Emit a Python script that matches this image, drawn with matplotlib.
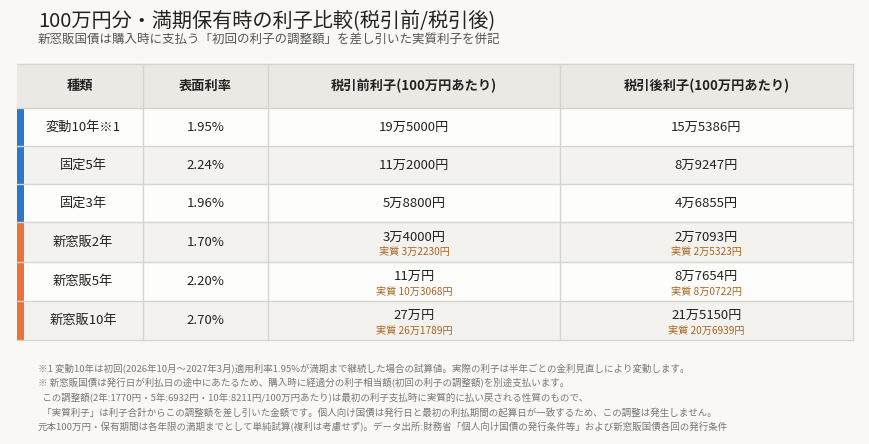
import matplotlib
matplotlib.use("Agg")
import matplotlib.pyplot as plt
from matplotlib.patches import Rectangle

plt.rcParams['font.family'] = ['Noto Sans CJK JP', 'DejaVu Sans']

types = ["変動10年※1", "固定5年", "固定3年", "新窓販2年", "新窓販5年", "新窓販10年"]
rates = ["1.95%", "2.24%", "1.96%", "1.70%", "2.20%", "2.70%"]
pre_tax = ["19万5000円", "11万2000円", "5万8800円", "3万4000円", "11万円", "27万円"]
pre_real = ["", "", "", "実質 3万2230円", "実質 10万3068円", "実質 26万1789円"]
post_tax = ["15万5386円", "8万9247円", "4万6855円", "2万7093円", "8万7654円", "21万5150円"]
post_real = ["", "", "", "実質 2万5323円", "実質 8万0722円", "実質 20万6939円"]
group_colors = ["#2b78c9"] * 3 + ["#e9743a"] * 3
headers = ["種類", "表面利率", "税引前利子(100万円あたり)", "税引後利子(100万円あたり)"]
notes = [
    "※1 変動10年は初回(2026年10月～2027年3月)適用利率1.95%が満期まで継続した場合の試算値。実際の利子は半年ごとの金利見直しにより変動します。",
    "※ 新窓販国債は発行日が利払日の途中にあたるため、購入時に経過分の利子相当額(初回の利子の調整額)を別途支払います。",
    "  この調整額(2年:1770円・5年:6932円・10年:8211円/100万円あたり)は最初の利子支払時に実質的に払い戻される性質のもので、",
    "  「実質利子」は利子合計からこの調整額を差し引いた金額です。個人向け国債は発行日と最初の利払期間の起算日が一致するため、この調整は発生しません。",
    "元本100万円・保有期間は各年限の満期までとして単純試算(複利は考慮せず)。データ出所:財務省「個人向け国債の発行条件等」および新窓販国債各回の発行条件",
]

W, H = 870, 444
fig = plt.figure(figsize=(W/100, H/100), dpi=100, facecolor="#f9f8f5")
ax = fig.add_axes([0, 0, 1, 1])
ax.set_xlim(0, W); ax.set_ylim(H, 0); ax.axis("off")

fig.text(38/W, 1-22/H, "100万円分・満期保有時の利子比較(税引前/税引後)", fontsize=14.5, color="#222", va="center")
fig.text(38/W, 1-39/H, "新窓販国債は購入時に支払う「初回の利子の調整額」を差し引いた実質利子を併記", fontsize=9, color="#555", va="center")

cols = [17, 143, 268, 560, 853]
hy0, hy1 = 64, 108
rows_y = [108, 146, 184, 222, 262, 301, 340]
ax.add_patch(Rectangle((cols[0], hy0), cols[-1]-cols[0], hy1-hy0, fc="#ebe9e4", ec="none"))
for i, h in enumerate(headers):
    ax.text((cols[i]+cols[i+1])/2, (hy0+hy1)/2, h, ha="center", va="center", fontsize=9.5, fontweight="bold", color="#222")
for r in range(len(types)):
    y0, y1 = rows_y[r], rows_y[r+1]
    fc = "#fdfdfb" if r % 2 == 0 else "#f3f2ee"
    ax.add_patch(Rectangle((cols[0], y0), cols[-1]-cols[0], y1-y0, fc=fc, ec="none"))
    ax.add_patch(Rectangle((cols[0], y0), 7, y1-y0, fc=group_colors[r], ec="none"))
    cy = (y0+y1)/2
    ax.text((cols[0]+cols[1])/2+3, cy, types[r], ha="center", va="center", fontsize=9.5, color="#222")
    ax.text((cols[1]+cols[2])/2, cy, rates[r], ha="center", va="center", fontsize=9.5, color="#222")
    for c, main, sub in [(2, pre_tax[r], pre_real[r]), (3, post_tax[r], post_real[r])]:
        xc = (cols[c]+cols[c+1])/2
        if sub:
            ax.text(xc, cy-5, main, ha="center", va="center", fontsize=9.5, color="#222")
            ax.text(xc, cy+10, sub, ha="center", va="center", fontsize=7.3, color="#a8641e")
        else:
            ax.text(xc, cy, main, ha="center", va="center", fontsize=9.5, color="#222")
for y in [hy0] + rows_y:
    ax.plot([cols[0], cols[-1]], [y, y], color="#d6d4cf", lw=1)
for x in cols[1:]:
    ax.plot([x, x], [hy0, rows_y[-1]], color="#d6d4cf", lw=1)

for i, n in enumerate(notes):
    ax.text(38, 369+i*14.5, n, ha="left", va="center", fontsize=6.8, color="#777")

fig.savefig("out.png", dpi=100, facecolor=fig.get_facecolor())
